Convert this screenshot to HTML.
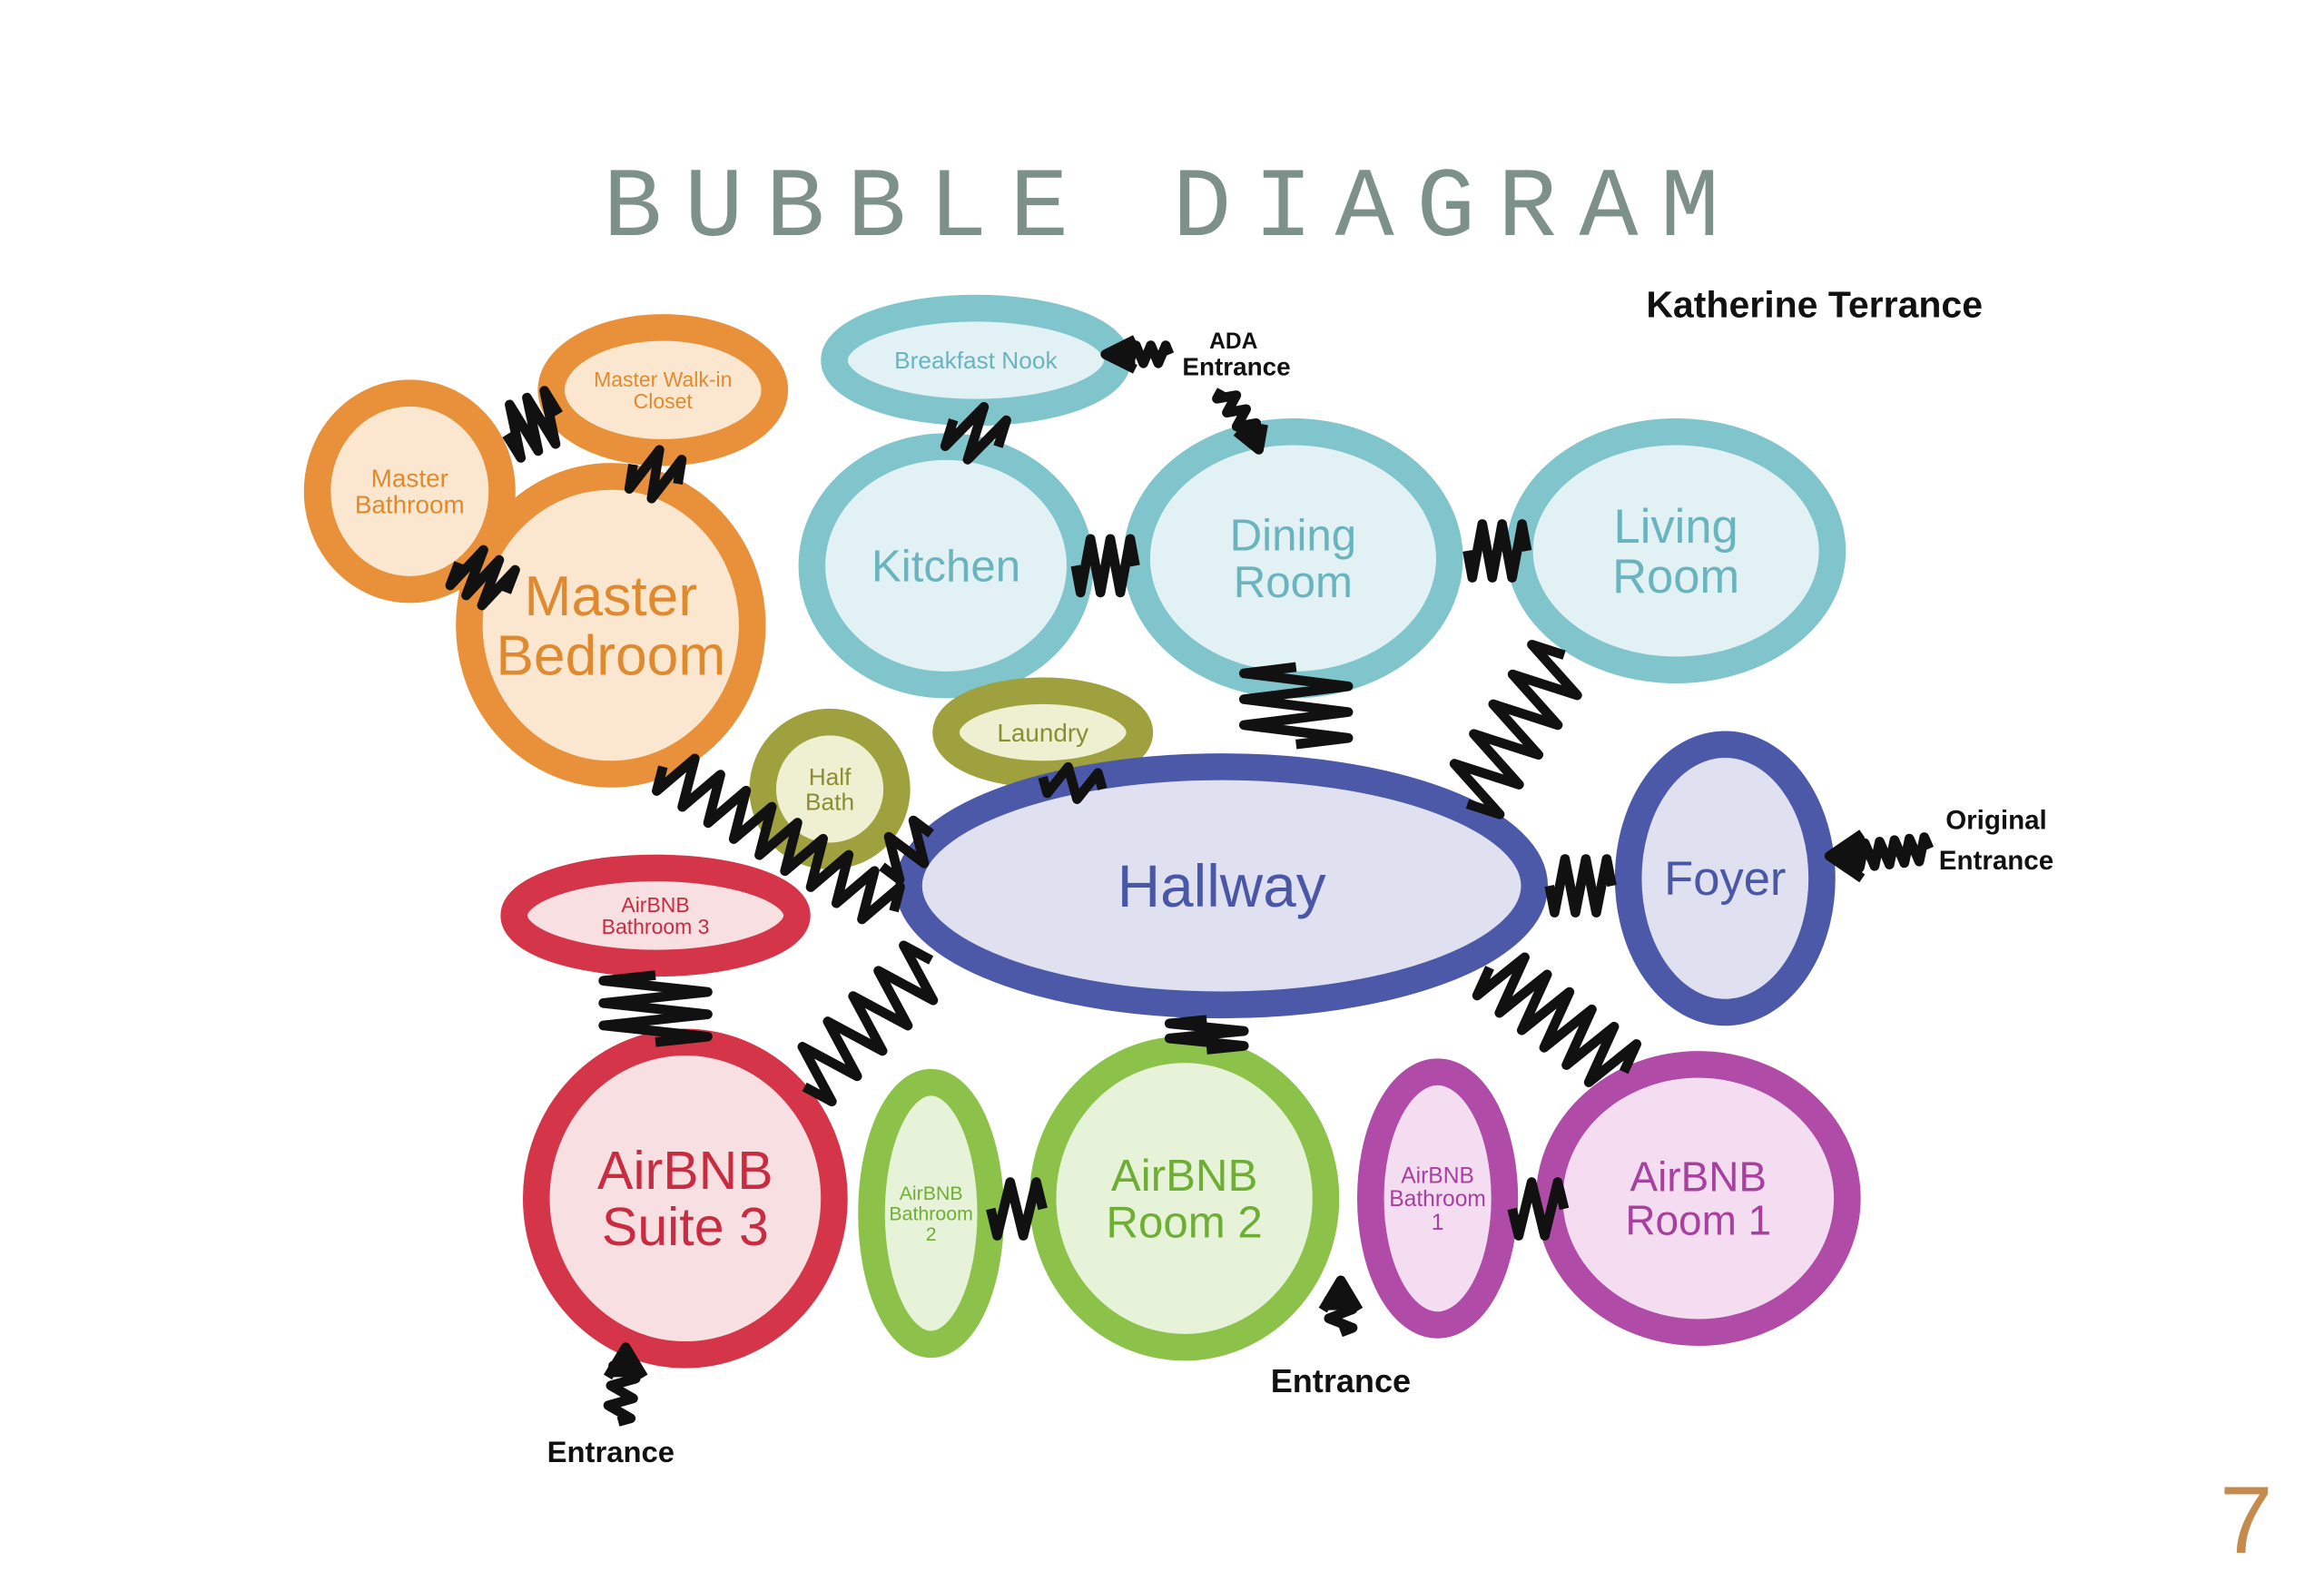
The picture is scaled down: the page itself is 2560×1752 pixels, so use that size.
<!DOCTYPE html>
<html><head><meta charset="utf-8"><style>
html,body{margin:0;padding:0;background:#fff;}
svg{display:block;}
text{font-family:"Liberation Sans",sans-serif;}
</style></head><body>
<svg id="s" width="2560" height="1752" viewBox="0 0 1560 1068" preserveAspectRatio="none">
<rect width="1560" height="1068" fill="#fff"/>
<text x="787" y="158" text-anchor="middle" style="font-family:'Liberation Mono',monospace" font-size="66" letter-spacing="15" fill="#7d918a">BUBBLE DIAGRAM</text>
<text x="1105" y="213" font-size="25" font-weight="bold" fill="#111">Katherine Terrance</text>
<text x="1490" y="1043" font-size="64" fill="#c48a4e">7</text>
<g id="bub" stroke-width="18"></g>
<g id="con" fill="none" stroke="#111" stroke-width="6.5" stroke-linejoin="round"></g>
<g id="lab"></g>
</svg>
<script>
var NS="http://www.w3.org/2000/svg";
function el(p,t,a,txt){var e=document.createElementNS(NS,t);for(var k in a)e.setAttribute(k,a[k]);if(txt)e.textContent=txt;document.getElementById(p).appendChild(e);return e;}
var C={o:["#e8913a","#fbe7cf","#e08a30"],t:["#80c4cc","#e2f1f3","#6ab4c0"],y:["#9ea13e","#eff0d2","#8a8e30"],b:["#4c58a8","#dfe1f1","#4a56a6"],r:["#d43548","#f8dfe2","#c82c40"],g:["#8cc24a","#e7f3d9","#6fae34"],m:["#b04ca8","#f4ddf1","#a8409e"]};
var B=[
[275,330,62,66,"o",["Master","Bathroom"],17],
[445,262,75,42,"o",["Master Walk-in","Closet"],14],
[410,420,95,100,"o",["Master","Bedroom"],38],
[655,242,95,35,"t",["Breakfast Nook"],16],
[635,380,90,80,"t",["Kitchen"],30],
[868,375,105,85,"t",["Dining","Room"],30],
[1125,370,105,80,"t",["Living","Room"],32],
[557,530,45,45,"y",["Half","Bath"],16],
[700,492,65,28,"y",["Laundry"],17],
[820,595,210,80,"b",["Hallway"],40],
[1158,590,65,90,"b",["Foyer"],32],
[440,615,95,32,"r",["AirBNB","Bathroom 3"],14],
[460,805,100,105,"r",["AirBNB","Suite 3"],36],
[625,815,40,88,"g",["AirBNB","Bathroom","2"],13],
[795,805,95,100,"g",["AirBNB","Room 2"],30],
[965,805,45,85,"m",["AirBNB","Bathroom","1"],15],
[1140,805,100,90,"m",["AirBNB","Room 1"],28]];
B.forEach(function(b){var c=C[b[4]];
el("bub","ellipse",{cx:b[0],cy:b[1],rx:b[2],ry:b[3],fill:c[1],stroke:c[0]});
var n=b[5].length,lh=b[6]*1.05,y0=b[1]-(n-1)*lh/2+b[6]*0.35;
b[5].forEach(function(t,i){el("lab","text",{x:b[0],y:y0+i*lh,"text-anchor":"middle","font-size":b[6],fill:c[2]},t);});});
function zig(x1,y1,x2,y2,n,a){var dx=x2-x1,dy=y2-y1,L=Math.sqrt(dx*dx+dy*dy),px=-dy/L,py=dx/L,d="M"+x1+" "+y1;
for(var i=1;i<=n*2;i++){var t=(i-0.5)/(n*2),s=(i%2?1:-1)*a;d+=" L"+(x1+dx*t+px*s).toFixed(1)+" "+(y1+dy*t+py*s).toFixed(1);}
d+=" L"+x2+" "+y2;el("con","path",{d:d});}
[[340,292,375,278,3,18],[425,312,455,325,2,16],[308,378,340,398,3,16],[640,282,670,300,2,18],[722,380,762,380,3,18],[985,370,1025,370,3,18],[870,448,870,500,3,35],[985,540,1050,440,5,22],[445,515,600,612,9,16],[592,582,625,560,2,14],[700,522,740,530,2,10],[1040,595,1082,595,3,18],[440,655,440,700,3,35],[540,730,625,645,5,20],[810,685,810,705,2,25],[665,812,700,812,2,18],[1000,650,1090,720,6,20],[1015,812,1050,812,2,18]].forEach(function(z){zig.apply(null,z);});
zig(415,955,420,915,3,8);el("con","path",{d:"M408 925 L420 905 L432 925",fill:"#111"});
zig(900,895,900,870,2,8);el("con","path",{d:"M888 880 L900 860 L912 880",fill:"#111"});
zig(785,238,755,238,3,6);el("con","path",{d:"M762 228 L742 238 L762 248",fill:"#111"});
zig(820,262,840,290,3,6);el("con","path",{d:"M830 290 L845 302 L848 285",fill:"#111"});
zig(1295,570,1245,575,5,8);el("con","path",{d:"M1250 560 L1228 575 L1250 590",fill:"#111"});
[["Entrance",410,982,20],["Entrance",900,935,22],["ADA",828,234,15],["Entrance",830,252,17],["Original",1340,557,18],["Entrance",1340,584,18]].forEach(function(t){el("lab","text",{x:t[1],y:t[2],"text-anchor":"middle","font-size":t[3],"font-weight":"bold",fill:"#111"},t[0]);});
</script>
</body></html>
